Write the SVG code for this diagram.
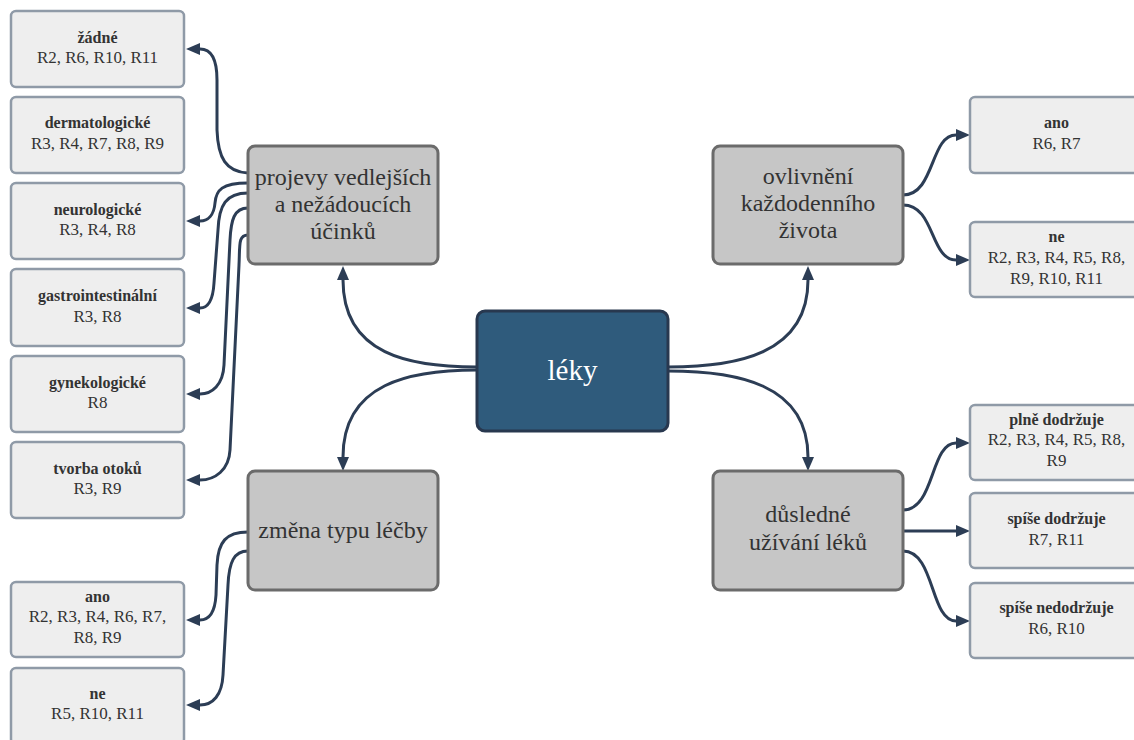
<svg xmlns="http://www.w3.org/2000/svg" width="1134" height="740" viewBox="0 0 1134 740">
<defs>
<style>
.leaf rect{fill:#eeeeee;stroke:#8f9aa7;stroke-width:2.5}
.main rect{fill:#c6c6c6;stroke:#6b6b6b;stroke-width:3}
.center rect{fill:#2f5b7c;stroke:#28384f;stroke-width:3}
text{text-anchor:middle;fill:#333333;font-family:"Liberation Serif","Noto Serif",Tinos,FreeSerif,"DejaVu Serif",Georgia,serif}
.lb{font-weight:bold;font-size:16px}
.rv{font-size:17px}
.mt{font-size:24px}
.ct{font-size:29px;fill:#ffffff}
.links path{fill:none;stroke:#2c3d55;stroke-width:3;marker-end:url(#arr)}
</style>
<marker id="arr" markerWidth="14" markerHeight="12" refX="0" refY="6" orient="auto" markerUnits="userSpaceOnUse" overflow="visible">
<path d="M0,0 L14,6 L0,12 z" fill="#2c3d55"/>
</marker>
</defs>
<rect width="1134" height="740" fill="#ffffff"/>
<g class="links" id="connectors">
<path d="M477,367 C410,367 343,355 343,280"/>
<path d="M477,370 C410,370 343,383 343,457"/>
<path d="M668,367 C735,367 808,355 808,280"/>
<path d="M668,371 C735,371 808,383 808,457"/>
<path d="M248,173 C226,172 218,158 217,130 L217,80 C217,58 210,49 200,49"/>
<path d="M248,183 C222,183 216,190 215,203 C214,215 208,221 200,221"/>
<path d="M248,193 C226,193 219,205 218,230 L214,283 C213,300 208,308 200,308"/>
<path d="M248,208 C234,208 231,220 230,240 L224,365 C223,385 212,394 200,394"/>
<path d="M248,235 C238,235 240,245 239,265 L230,450 C229,470 215,480 200,480"/>
<path d="M248,532 C226,532 218,542 217,565 L216,595 C215,612 210,620 200,620"/>
<path d="M248,551 C234,551 229,562 228,585 L223,675 C222,695 213,705 200,705"/>
<path d="M903,195 C935,195 930,135 956,135"/>
<path d="M903,205 C935,205 930,260 956,260"/>
<path d="M903,510 C935,510 930,443 956,443"/>
<path d="M903,531 L956,531"/>
<path d="M903,551 C935,551 930,621 956,621"/>
</g>
<g id="leky" class="center"><rect x="477" y="311" width="191" height="120" rx="8"/><text class="ct" x="572.5" y="380">léky</text></g>
<g id="projevy" class="main"><rect x="248" y="146" width="190" height="118" rx="7"/><text class="mt" x="343" y="185">projevy vedlejších</text><text class="mt" x="343" y="212">a nežádoucích</text><text class="mt" x="343" y="239">účinků</text></g>
<g id="zmena" class="main"><rect x="248" y="471" width="190" height="119" rx="7"/><text class="mt" x="343" y="538">změna typu léčby</text></g>
<g id="ovlivneni" class="main"><rect x="713" y="146" width="190" height="118" rx="7"/><text class="mt" x="808" y="184">ovlivnění</text><text class="mt" x="808" y="211">každodenního</text><text class="mt" x="808" y="238">života</text></g>
<g id="dusledne" class="main"><rect x="713" y="471" width="190" height="119" rx="7"/><text class="mt" x="808" y="522">důsledné</text><text class="mt" x="808" y="550">užívání léků</text></g>
<g id="zadne" class="leaf"><rect x="11" y="11" width="173" height="76" rx="5"/><text class="lb" x="97.5" y="43">žádné</text><text class="rv" x="97.5" y="63">R2, R6, R10, R11</text></g>
<g id="dermatologicke" class="leaf"><rect x="11" y="97" width="173" height="76" rx="5"/><text class="lb" x="97.5" y="128">dermatologické</text><text class="rv" x="97.5" y="149">R3, R4, R7, R8, R9</text></g>
<g id="neurologicke" class="leaf"><rect x="11" y="183" width="173" height="76" rx="5"/><text class="lb" x="97.5" y="214.5">neurologické</text><text class="rv" x="97.5" y="235">R3, R4, R8</text></g>
<g id="gastro" class="leaf"><rect x="11" y="269" width="173" height="77" rx="5"/><text class="lb" x="97.5" y="301">gastrointestinální</text><text class="rv" x="97.5" y="322">R3, R8</text></g>
<g id="gyneko" class="leaf"><rect x="11" y="356" width="173" height="76" rx="5"/><text class="lb" x="97.5" y="387.5">gynekologické</text><text class="rv" x="97.5" y="408">R8</text></g>
<g id="otoky" class="leaf"><rect x="11" y="442" width="173" height="76" rx="5"/><text class="lb" x="97.5" y="473.5">tvorba otoků</text><text class="rv" x="97.5" y="494">R3, R9</text></g>
<g id="zmena-ano" class="leaf"><rect x="11" y="582" width="173" height="75" rx="5"/><text class="lb" x="97.5" y="602">ano</text><text class="rv" x="97.5" y="622">R2, R3, R4, R6, R7,</text><text class="rv" x="97.5" y="643">R8, R9</text></g>
<g id="zmena-ne" class="leaf"><rect x="11" y="668" width="173" height="76" rx="5"/><text class="lb" x="97.5" y="699">ne</text><text class="rv" x="97.5" y="719">R5, R10, R11</text></g>
<g id="ovl-ano" class="leaf"><rect x="970" y="97" width="173" height="76" rx="5"/><text class="lb" x="1056.5" y="128">ano</text><text class="rv" x="1056.5" y="149">R6, R7</text></g>
<g id="ovl-ne" class="leaf"><rect x="970" y="222" width="173" height="75" rx="5"/><text class="lb" x="1056.5" y="242">ne</text><text class="rv" x="1056.5" y="263">R2, R3, R4, R5, R8,</text><text class="rv" x="1056.5" y="284">R9, R10, R11</text></g>
<g id="plne" class="leaf"><rect x="970" y="405" width="173" height="75" rx="5"/><text class="lb" x="1056.5" y="425">plně dodržuje</text><text class="rv" x="1056.5" y="445">R2, R3, R4, R5, R8,</text><text class="rv" x="1056.5" y="466">R9</text></g>
<g id="spise-dodrzuje" class="leaf"><rect x="970" y="493" width="173" height="75" rx="5"/><text class="lb" x="1056.5" y="524">spíše dodržuje</text><text class="rv" x="1056.5" y="545">R7, R11</text></g>
<g id="spise-nedodrzuje" class="leaf"><rect x="970" y="583" width="173" height="75" rx="5"/><text class="lb" x="1056.5" y="613">spíše nedodržuje</text><text class="rv" x="1056.5" y="634">R6, R10</text></g>
</svg>
